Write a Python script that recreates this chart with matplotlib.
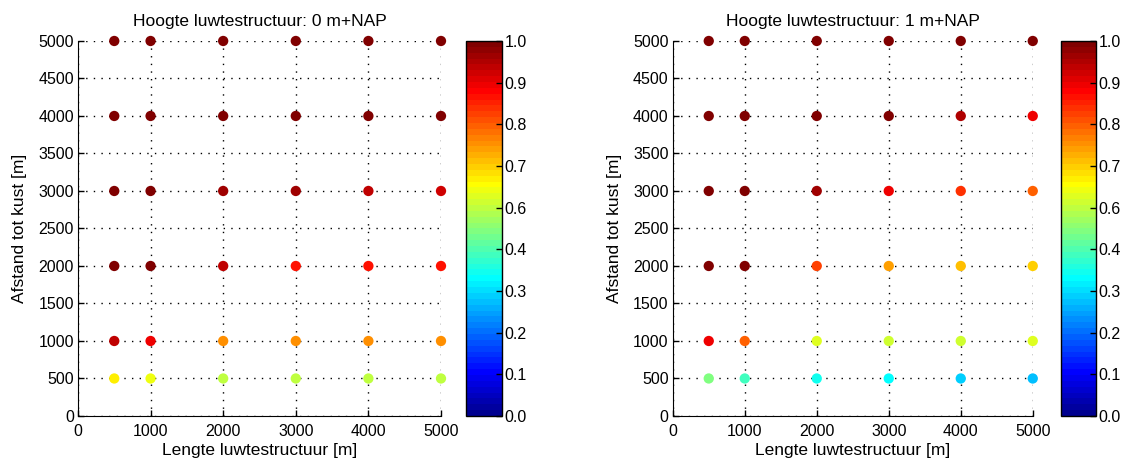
import numpy as np
import matplotlib
matplotlib.use("Agg")
import matplotlib.pyplot as plt
from matplotlib.colors import ListedColormap, Normalize
from matplotlib.cm import ScalarMappable

# ---- data ----
lengths = [500, 1000, 2000, 3000, 4000, 5000]        # Lengte luwtestructuur [m]
distances = [500, 1000, 2000, 3000, 4000, 5000]      # Afstand tot kust [m]

# rows = distances (500 .. 5000), columns = lengths (500 .. 5000)
values_0m = [
    [0.625, 0.605, 0.56, 0.56, 0.56, 0.56],
    [0.93, 0.88, 0.73, 0.73, 0.73, 0.73],
    [1.00, 0.99, 0.925, 0.855, 0.855, 0.855],
    [1.00, 0.99, 0.963, 0.965, 0.925, 0.91],
    [1.00, 1.00, 0.995, 0.995, 0.995, 0.995],
    [1.00, 1.00, 1.00, 1.00, 1.00, 1.00],
]
values_1m = [
    [0.49, 0.435, 0.375, 0.365, 0.32, 0.305],
    [0.89, 0.78, 0.585, 0.575, 0.575, 0.585],
    [0.99, 0.99, 0.806, 0.7125, 0.675, 0.665],
    [1.00, 0.99, 0.96, 0.89, 0.816, 0.777],
    [0.995, 0.995, 0.995, 0.995, 0.939, 0.88],
    [1.00, 1.00, 1.00, 1.00, 1.00, 1.00],
]
titles = ["Hoogte luwtestructuur: 0 m+NAP", "Hoogte luwtestructuur: 1 m+NAP"]
xlabel = "Lengte luwtestructuur [m]"
ylabel = "Afstand tot kust [m]"


def matlab_jet(n=64):
    m = int(np.ceil(n / 4))
    u = np.concatenate([np.arange(1, m + 1) / m, np.ones(m - 1), np.arange(m, 0, -1) / m])
    g = int(np.ceil(m / 2)) - (1 if n % 4 == 1 else 0) + np.arange(1, len(u) + 1)
    r = g + m
    b = g - m
    cmap = np.zeros((n, 3))
    for idx, ch in ((r, 0), (g, 1), (b, 2)):
        ok = (idx >= 1) & (idx <= n)
        cmap[idx[ok] - 1, ch] = u[ok]
    return ListedColormap(cmap)


cmap = matlab_jet(64)
norm = Normalize(0, 1)

plt.rcParams['font.family'] = ['Liberation Sans', 'DejaVu Sans']
plt.rcParams['font.size'] = 11

fig = plt.figure(figsize=(11.25, 4.62), dpi=100)

ax_pos = [[0.0693, 0.0996, 0.3227, 0.8117], [0.598, 0.0996, 0.320, 0.8117]]
cb_pos = [[0.4142, 0.0996, 0.032, 0.8117], [0.9428, 0.0996, 0.031, 0.8117]]

for k, vals in enumerate([values_0m, values_1m]):
    ax = fig.add_axes(ax_pos[k])
    X, Y = np.meshgrid(lengths, distances)
    V = np.array(vals)
    ax.set_axisbelow(True)
    ax.scatter(X.ravel(), Y.ravel(), c=V.ravel(), cmap=cmap, norm=norm,
               s=55, edgecolors='none', clip_on=False, zorder=3)
    ax.set_xlim(0, 5000)
    ax.set_ylim(0, 5000)
    ax.set_xticks(np.arange(0, 5001, 1000))
    ax.set_yticks(np.arange(0, 5001, 500))
    ax.grid(True, color='black', linestyle=(0, (1, 4.5)), linewidth=1.0)
    for s in ('top', 'right'):
        ax.spines[s].set_visible(False)
    ax.tick_params(direction='in', length=4, width=1, labelsize=11.5, pad=3)
    ax.tick_params(axis='x', pad=6)
    ax.set_title(titles[k], fontsize=12.5, pad=11)
    ax.set_xlabel(xlabel, fontsize=12.5, labelpad=3)
    ax.set_ylabel(ylabel, fontsize=12.5, labelpad=8)

    cax = fig.add_axes(cb_pos[k])
    cb = fig.colorbar(ScalarMappable(norm=norm, cmap=cmap), cax=cax)
    ticks = np.linspace(0, 1, 10)
    cb.set_ticks(ticks)
    cb.set_ticklabels([f"{t:.1f}" for t in ticks])
    cax.tick_params(direction='in', length=4, width=1, labelsize=11.5, pad=2)
    cb.outline.set_linewidth(1)

fig.savefig("out.png", dpi=100)
